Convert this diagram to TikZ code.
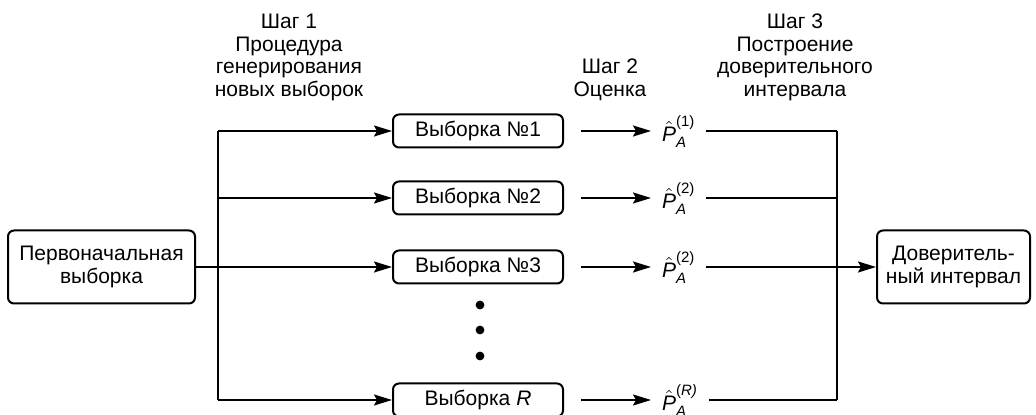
\documentclass[tikz,border=0pt]{standalone}
\usepackage{fontspec}
\setmainfont{Liberation Sans}
\usetikzlibrary{positioning, arrows.meta, calc}

\newcommand{\smalltxt}[1]{\mbox{\fontsize{7.5}{8}\selectfont #1}}

\begin{document}
\begin{tikzpicture}[x = 0.5pt, y = -0.5pt, line width = 1pt, font = \fontsize{10.5}{11.3}\selectfont,
    box/.style = {draw, rounded corners = 3pt, align = center, inner sep = 1pt},
    samplebox/.style = {box, minimum width = 85pt, minimum height = 16.5pt},
    arr/.style = {-{Stealth[length = 9pt, width = 5.5pt, inset = 1.5pt]}},
    steptext/.style = {align = center, anchor = north, inner sep = 0pt}]
  \useasboundingbox (0,0) rectangle (1036,415);

  % steps
  \node[steptext] (step1) at (289,13) {Шаг 1\\Процедура\\генерирования\\новых выборок};
  \node[steptext] (step2) at (610,58) {Шаг 2\\Оценка};
  \node[steptext] (step3) at (795,13) {Шаг 3\\Построение\\доверительного\\интервала};

  % boxes
  \node[box, minimum width = 93.5pt, minimum height = 36.5pt] (orig) at (101.5,267) {Первоначальная\\выборка};
  \node[samplebox] (s1) at (478,131) {Выборка №1};
  \node[samplebox] (s2) at (478,198) {Выборка №2};
  \node[samplebox] (s3) at (478,267) {Выборка №3};
  \node[samplebox] (sR) at (478,400) {Выборка \textit{R}};
  \node[box, minimum width = 76.5pt, minimum height = 36.5pt] (interval) at (953.5,267) {Довери\-тель-\\ный интервал};

  % estimates
  \foreach \n/\k in {1/(1), 2/(2), 3/(2), R/(\itshape R)}
    \node[inner sep = 0pt, anchor = base west] (p\n) at ($(s\n.east) + (97,11)$)
      {$\hat{\mbox{\itshape P}}^{\smalltxt{\k}}_{\smalltxt{\itshape A}}$};

  \foreach \y in {305,330,356}
    \fill (480,\y) circle (2.2pt);

  \coordinate (forktop) at (218,131);
  \coordinate (forkbot) at (218,400);
  \coordinate (jointop) at (837,131);
  \coordinate (joinbot) at (837,400);

  \draw (forktop) -- (forkbot);
  \draw (jointop) -- (joinbot);
  \draw (orig) -- (orig -| forktop);
  \draw[arr] (interval -| jointop) -- (interval);

  \foreach \n in {1, 2, 3, R} {
    \draw[arr] (s\n -| forktop) -- (s\n);
    \draw[arr, shorten < = 8.5pt, shorten > = 5pt] (s\n.east) -- (s\n.east -| p\n.west);
    \draw[shorten < = 5pt] (s\n.east -| p\n.east) -- (s\n -| jointop);
  }
\end{tikzpicture}
\end{document}
